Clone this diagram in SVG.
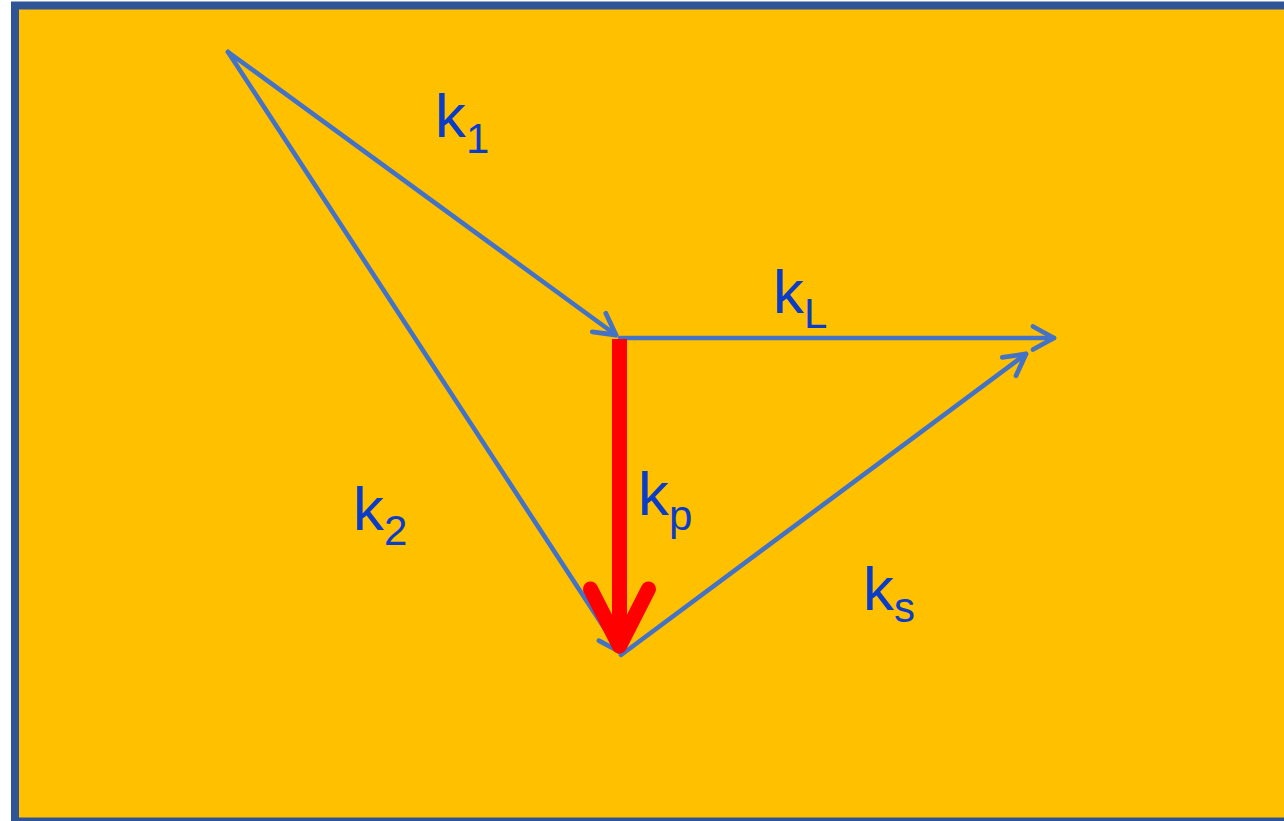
<svg xmlns="http://www.w3.org/2000/svg" width="1284" height="821" viewBox="0 0 1284 821">
<style>
.vec{stroke:#4472C4;stroke-width:4.6;fill:none;stroke-linecap:round}
.lbl{font-family:"Liberation Sans",Arial,sans-serif;fill:#0A3CC8;font-size:62px}
.sub{font-size:42px}
</style>
<defs>
<marker id="ah" markerUnits="userSpaceOnUse" markerWidth="40" markerHeight="40" viewBox="-30 -20 40 40" refX="0" refY="0" orient="auto" overflow="visible">
<path d="M-21 -11.5 L0 0 L-21 11.5" fill="none" stroke="#4472C4" stroke-width="4.8" stroke-linecap="round" stroke-linejoin="round"/>
</marker>
<marker id="ahr" markerUnits="userSpaceOnUse" markerWidth="90" markerHeight="90" viewBox="-70 -45 90 90" refX="0" refY="0" orient="auto" overflow="visible">
<path d="M-57 -29 L0 0 L-57 29" fill="none" stroke="#FF0000" stroke-width="15" stroke-linecap="round" stroke-linejoin="round"/>
</marker>
</defs>
<rect x="15" y="5.5" width="1290" height="816" fill="#FFC000" stroke="#2F5597" stroke-width="8"/>
<g id="connectors">
<line id="k1" class="vec" x1="228" y1="52" x2="616" y2="335" marker-end="url(#ah)"/>
<line id="k2" class="vec" x1="228" y1="52" x2="620" y2="652" marker-end="url(#ah)"/>
<line id="kL" class="vec" x1="620" y1="338" x2="1054" y2="338" marker-end="url(#ah)"/>
<line id="ks" class="vec" x1="621" y1="655" x2="1026" y2="354" marker-end="url(#ah)"/>
<line id="kp" x1="619.5" y1="339" x2="619.5" y2="646" stroke="#FF0000" stroke-width="15" marker-end="url(#ahr)"/>
</g>
<g id="label-k1"><text class="lbl" x="435" y="137">k<tspan class="sub" dy="16">1</tspan></text></g>
<g id="label-kL"><text class="lbl" x="773" y="313">k<tspan class="sub" dy="15">L</tspan></text></g>
<g id="label-k2"><text class="lbl" x="353" y="530">k<tspan class="sub" dy="15">2</tspan></text></g>
<g id="label-kp"><text class="lbl" x="638" y="515">k<tspan class="sub" dy="15">p</tspan></text></g>
<g id="label-ks"><text class="lbl" x="863" y="610">k<tspan class="sub" dy="12">s</tspan></text></g>
</svg>
